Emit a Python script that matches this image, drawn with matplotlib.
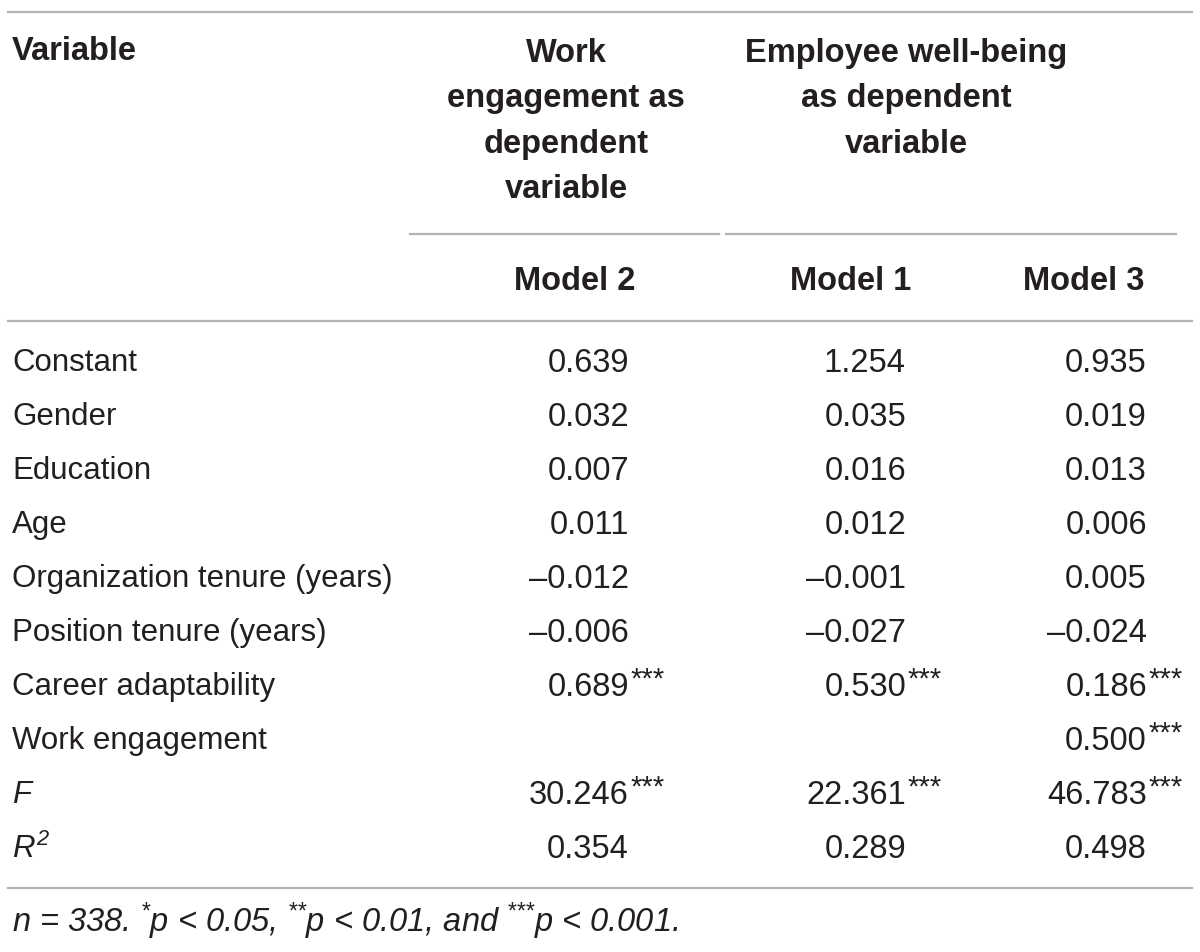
import matplotlib.pyplot as plt

plt.rcParams["font.family"] = ["Liberation Sans", "DejaVu Sans"]
plt.rcParams["mathtext.fontset"] = "custom"
plt.rcParams["mathtext.rm"] = "Liberation Sans:italic"
plt.rcParams["mathtext.it"] = "Liberation Sans:italic"

TEXT = "#231f20"
RULE = "#b4b4b4"

row_labels = [
    "Constant", "Gender", "Education", "Age", "Organization tenure (years)",
    "Position tenure (years)", "Career adaptability", "Work engagement",
    "F", "R2",
]
italic_rows = {"F"}

model2 = [0.639, 0.032, 0.007, 0.011, -0.012, -0.006, 0.689, None, 30.246, 0.354]
model2_sig = ["", "", "", "", "", "", "***", "", "***", ""]
model1 = [1.254, 0.035, 0.016, 0.012, -0.001, -0.027, 0.530, None, 22.361, 0.289]
model1_sig = ["", "", "", "", "", "", "***", "", "***", ""]
model3 = [0.935, 0.019, 0.013, 0.006, 0.005, -0.024, 0.186, 0.500, 46.783, 0.498]
model3_sig = ["", "", "", "", "", "", "***", "***", "***", ""]

group_headers = ["Work\nengagement as\ndependent\nvariable",
                 "Employee well-being\nas dependent\nvariable"]
model_names = ["Model 2", "Model 1", "Model 3"]
# {*} keeps mathtext from spacing the asterisks like operators
footnote = (r"$n$ = 338. $^{{*}}p$ < 0.05, $^{{*}{*}}p$ < 0.01, "
            r"and $^{{*}{*}{*}}p$ < 0.001.")


def fmt(v):
    if v is None:
        return ""
    s = f"{v:.3f}"
    return s.replace("-", "\u2013")


fig = plt.figure(figsize=(12, 9.52), dpi=100)
ax = fig.add_axes([0, 0, 1, 1])
ax.set_xlim(0, 1200)
ax.set_ylim(952, 0)
ax.axis("off")

fs = 22.5
fs_num = 23.5
fs_bold = 23.5
lw = 1.6

# rules
ax.plot([8, 1192], [12, 12], color=RULE, lw=lw)
ax.plot([410, 719], [234, 234], color=RULE, lw=lw)
ax.plot([726, 1176], [234, 234], color=RULE, lw=lw)
ax.plot([8, 1192], [321, 321], color=RULE, lw=lw)
ax.plot([8, 1192], [888, 888], color=RULE, lw=lw)

# header
ax.text(12, 52, "Variable", fontsize=fs_bold, fontweight="bold", color=TEXT,
        va="center", ha="left")
for x, h in zip([566, 906], group_headers):
    ax.text(x, 38, h, fontsize=fs_bold, fontweight="bold", color=TEXT,
            va="top", ha="center", linespacing=1.6)
for x, m in zip([575, 851, 1084], model_names):
    ax.text(x, 281, m, fontsize=fs_bold, fontweight="bold", color=TEXT,
            va="center", ha="center")

# body
row_y0, row_dy = 363, 54
col_right = [629, 906, 1147]
cols = [(model2, model2_sig), (model1, model1_sig), (model3, model3_sig)]
for i, lab in enumerate(row_labels):
    y = row_y0 + i * row_dy
    if lab == "R2":
        ax.text(12, y, r"$R^{2}$", fontsize=fs, color=TEXT, va="center",
                ha="left")
    else:
        ax.text(12, y, lab, fontsize=fs, color=TEXT, va="center", ha="left",
                style="italic" if lab in italic_rows else "normal")
    for xr, (vals, sig) in zip(col_right, cols):
        ax.text(xr, y, fmt(vals[i]), fontsize=fs_num, color=TEXT,
                va="center", ha="right")
        if sig[i]:
            ax.text(xr + 1, y - 7, sig[i], fontsize=21, color=TEXT,
                    va="center", ha="left")

ax.text(12, 921, footnote, fontsize=fs_num, color=TEXT, va="center",
        ha="left", style="italic")

fig.savefig("out.png", dpi=100)
